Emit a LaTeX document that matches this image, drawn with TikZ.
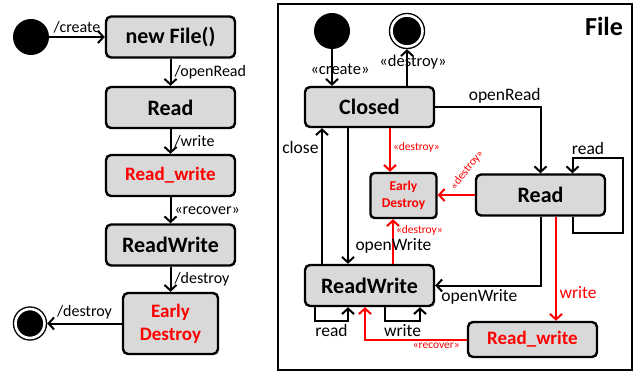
\documentclass[tikz,border=0pt]{standalone}
\usepackage{fontspec}
\setmainfont{Carlito}
\usetikzlibrary{arrows.meta,calc}
\definecolor{stategray}{HTML}{D9D9D9}
\definecolor{umlred}{HTML}{FF0000}
\tikzset{
    statebox/.style={draw, line width=2.4pt, rounded corners=5pt, fill=stategray, minimum width=129pt, minimum height=41pt, inner sep=2pt, align=center, font=\bfseries\fontsize{22}{24}\selectfont},
    redbox/.style={statebox, text=umlred, font=\bfseries\fontsize{19}{23}\selectfont},
    initst/.style={circle, fill=black, minimum size=36pt, inner sep=0pt},
    finalst/.style={circle, fill=black, draw=black, line width=1.4pt, double=white, double distance=2.6pt, minimum size=31pt, inner sep=0pt, outer sep=2.7pt},
    arr/.style={line width=2pt, -{Straight Barb[length=5.5pt,width=12pt]}},
    redarr/.style={arr, draw=umlred},
    lbl/.style={font=\fontsize{16}{18}\selectfont, inner sep=3pt},
    rlbl/.style={font=\fontsize{17.5}{19}\selectfont, inner sep=2.5pt},
    stereo/.style={font=\fontsize{16.5}{18}\selectfont, inner sep=2pt},
    redtag/.style={font=\fontsize{11.5}{13}\selectfont, text=umlred, inner sep=2pt},
}
\begin{document}
\begin{tikzpicture}[x=1pt, y=-1pt]
    \useasboundingbox (0,0) rectangle (642,374);

    % left: the plain life cycle
    \begin{scope}
        \node[initst] (startL) at (31,37) {};
        \node[statebox] (newfile) at (170.5,37) {new File()};
        \node[statebox] (readL) at (170.5,107.5) {Read};
        \node[redbox] (rwL) at (170.5,175.5) {Read\_write};
        \node[statebox] (readwriteL) at (170.5,245) {ReadWrite};
        \node[redbox, minimum width=95pt, minimum height=61pt] (earlyL) at (170.5,323.5) {Early\\Destroy};
        \node[finalst, minimum size=29pt] (endL) at (30,323.5) {};

        \draw[arr] (startL) -- node[lbl, above] (lcreate) {/create} (newfile);
        \draw[arr] (newfile) -- node[lbl, right] (lopenread) {/openRead} (readL);
        \draw[arr] (readL) -- node[lbl, right] (lwrite) {/write} (rwL);
        \draw[arr] (rwL) -- node[lbl, right] (lrecover) {«recover»} (readwriteL);
        \draw[arr] (readwriteL) -- node[lbl, right] (ldestroy) {/destroy} (earlyL);
        \draw[arr] (earlyL) -- node[lbl, above] (lend) {/destroy} (endL);
    \end{scope}

    % right: the File state machine
    \begin{scope}
        \draw[line width=2.4pt] (278,4) rectangle (632,370);
        \node[font=\bfseries\fontsize{26}{28}\selectfont] (filetitle) at (604,26) {File};

        \node[initst] (startR) at (332,31) {};
        \node[finalst] (endR) at (407,31) {};
        \node[statebox, minimum height=40pt] (closed) at (369.5,107) {Closed};
        \node[statebox] (readR) at (540.5,195) {Read};
        \node[redbox, font=\bfseries\fontsize{13.5}{17}\selectfont, minimum width=66pt, minimum height=45pt, rounded corners=4pt] (earlyR) at (403.5,195.5) {Early\\Destroy};
        \node[statebox] (readwriteR) at (369.5,285.5) {ReadWrite};
        \node[redbox, minimum height=35pt] (rwR) at (532.5,339.5) {Read\_write};

        \draw[arr] (startR) -- node[stereo, pos=0.55, xshift=8pt] (rcreate) {«create»} (startR |- closed.north);
        \draw[arr] (endR |- closed.north) -- node[stereo, pos=0.66, xshift=6pt] (rdestroy) {«destroy»} (endR);
        \draw[arr] (closed.east) -| node[rlbl, above, pos=0.33] (ropenread) {openRead} (readR.north);
        \draw[arr] ([xshift=32pt]readR.south) -- ++(0,16) -- ++(50,0) |- node[rlbl, above, pos=0.845] (rreadloop) {read} ($(readR.north)+(32,-15)$) -- ([xshift=32pt]readR.north);

        \draw[redarr] ($(earlyR.north |- closed.south)+(-13.5,0)$) -- node[redtag, right, pos=0.45] (rdestroyclosed) {«destroy»} ($(earlyR.north)+(-13.5,0)$);
        \draw[redarr] (readR.west) -- (readR.west -| earlyR.east);
        \node[redtag, rotate=52] (rdestroyread) at (467,170) {«destroy»};
        \draw[redarr] ($(earlyR.south |- readwriteR.north)+(-10.5,0)$) -- node[redtag, right, pos=0.74] (rdestroyrw) {«destroy»} ($(earlyR.south)+(-10.5,0)$);

        \draw[arr] ($(readwriteR.north)+(-47.5,0)$) -- node[rlbl, left, pos=0.86] (rclose) {close} ($(closed.south)+(-47.5,0)$);
        \draw[arr] ($(closed.south)+(-21.5,0)$) -- node[rlbl, right, pos=0.87, xshift=4pt] (ropenwrite) {openWrite} ($(readwriteR.north)+(-21.5,0)$);
        \draw[arr] (readR.south) |- node[rlbl, below, pos=0.79] (ropenwriteb) {openWrite} (readwriteR.east);
        \draw[redarr] ($(readR.south)+(15.5,0)$) -- node[rlbl, text=umlred, right, pos=0.73] (rwrite) {write} ($(rwR.north -| readR.south)+(15.5,0)$);
        \draw[redarr] (rwR.west) -| node[redtag, below, pos=0.15] (rrecover) {«recover»} ($(readwriteR.south)+(-4.5,0)$);

        \draw[arr] ($(readwriteR.south)+(-54.5,0)$) -- ++(0,14) -| node[rlbl, below, pos=0.25] (rreadself) {read} ($(readwriteR.south)+(-21.5,0)$);
        \draw[arr] ($(readwriteR.south)+(15.5,0)$) -- ++(0,14) -| node[rlbl, below, pos=0.25] (rwriteself) {write} ($(readwriteR.south)+(50.5,0)$);
    \end{scope}
\end{tikzpicture}
\end{document}
